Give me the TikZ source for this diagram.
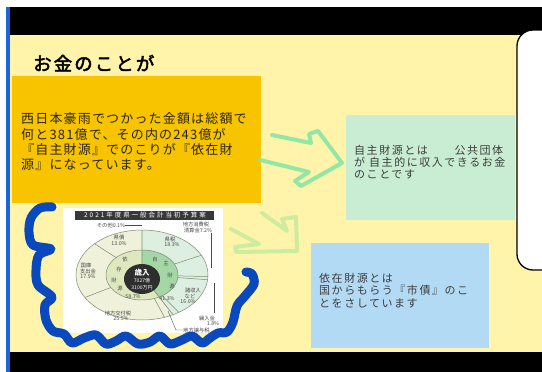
\documentclass[tikz,border=0pt]{standalone}
\usepackage{fontspec}
\newfontfamily\jp{Noto Sans CJK JP}
\newfontfamily\jpA[LetterSpace=9]{Noto Sans CJK JP}
\newfontfamily\jpB[LetterSpace=14]{Noto Sans CJK JP}
\newfontfamily\jpT[LetterSpace=11,FakeBold=2.5]{Noto Sans CJK JP}
\newfontfamily\jpC[LetterSpace=30]{Noto Sans CJK JP}
\definecolor{bgyellow}{HTML}{FFF4AA}
\definecolor{orangebox}{HTML}{F8C400}
\definecolor{mintbox}{HTML}{C8EDD2}
\definecolor{skybox}{HTML}{B3DAF5}
\definecolor{edgeblue}{HTML}{1A66D9}
\definecolor{scribble}{HTML}{0A48BE}
\definecolor{arrowA}{HTML}{86E6A6}
\definecolor{arrowB}{HTML}{C9EC9E}
\definecolor{ownOuter}{HTML}{DDEFE0}
\definecolor{ownInner}{HTML}{A5D7A6}
\definecolor{depOuter}{HTML}{F0F1DA}
\definecolor{depInner}{HTML}{DDE8BF}
\definecolor{chartline}{HTML}{7D8A70}
\definecolor{chartText}{HTML}{4A4A4A}
\definecolor{textdark}{HTML}{2A2410}
\definecolor{textgray}{HTML}{3C3C3C}
\tikzset{
  otext/.style={anchor=base west, inner sep=0, font=\jpA\fontsize{13}{15}\selectfont, text=textdark},
  btext/.style={anchor=base west, inner sep=0, font=\jpB\fontsize{11}{12}\selectfont, text=textgray},
  clabel/.style={inner sep=0, font=\jp\fontsize{5.3}{6}\selectfont, text=chartText},
  handarrow/.style={line width=4pt, line join=round, line cap=round, opacity=.9},
  leader/.style={draw=chartText, line width=0.4pt},
}
\begin{document}
\begin{tikzpicture}[x=1pt,y=-1pt]
\useasboundingbox (0,0) rectangle (542,372);
\clip (0,0) rectangle (542,372);
% frame
\fill[white] (0,0) rectangle (542,372);
\fill[black] (10,7) rectangle (542,35);
\fill[bgyellow] (10,35) rectangle (542,352);
\fill[black] (10,352) rectangle (542,372);
\fill[edgeblue] (6,7) rectangle (10,372);
% right white box
\draw[line width=1.3pt, fill=white, rounded corners=16pt] (517,30) rectangle (575,270);
% title
\node[anchor=base west, inner sep=0, font=\jpT\fontsize{18.5}{20}\selectfont] (title) at (33,70.5) {お金のことが};
% orange box
\fill[orangebox] (12,76) rectangle (261,203);
\node[otext] (o1) at (21,123.5) {西日本豪雨でつかった金額は総額で};
\node[otext] (o2) at (21,139) {何と381億で、その内の243億が};
\node[otext] (o3) at (21,154) {『自主財源』でのこりが『依在財};
\node[otext] (o4) at (21,169) {源』になっています。};
% green box
\fill[mintbox] (346,115) rectangle (515,220);
\node[btext] (g1) at (354,154) {自主財源とは　　公共団体};
\node[btext] (g2) at (354,166) {が 自主的に収入できるお金};
\node[btext] (g3) at (354,178) {のことです};
% blue box
\fill[skybox] (311,243) rectangle (489,348);
\node[btext] (b1) at (319,282) {依在財源とは};
\node[btext] (b2) at (319,294) {国からもらう『市債』のこ};
\node[btext] (b3) at (319,307) {とをさしています};
% hand-drawn arrows
\draw[handarrow, arrowA] (272,135) -- (311,143) -- (309,134) -- (318,131) -- (342,163) -- (301,186) -- (295,181) -- (309,172) -- (260,160);
\draw[handarrow, arrowB] (262,213) -- (287,231) -- (282,219) -- (296,217) -- (297,251) -- (236,252) -- (235,247) -- (259,244) -- (231,229);
% chart
\fill[white] (63,208) rectangle (223,333);
\fill[black!78] (75,211) rectangle (214,219.5);
\node[inner sep=0, text=white, font=\jpC\fontsize{6.5}{7}\selectfont] (ctitle) at (145,215.3) {2021年度県一般会計当初予算案};
\begin{scope}[shift={(142,275)}]
  \fill[ownOuter] (0,0) -- plot[domain=-90:62, samples=40] ({66*cos(\x)},{45*sin(\x)}) -- cycle;
  \fill[depOuter] (0,0) -- plot[domain=62:270, samples=50] ({66*cos(\x)},{45*sin(\x)}) -- cycle;
  \fill[ownInner] (0,0) -- plot[domain=-90:62, samples=40] ({36*cos(\x)},{25*sin(\x)}) -- cycle;
  \fill[depInner] (0,0) -- plot[domain=62:270, samples=50] ({36*cos(\x)},{25*sin(\x)}) -- cycle;
  \draw[chartline, line width=0.5pt] plot[domain=0:360, samples=90] ({66*cos(\x)},{45*sin(\x)}) -- cycle;
  \draw[chartline, line width=0.5pt] plot[domain=0:360, samples=70] ({36*cos(\x)},{25*sin(\x)}) -- cycle;
  \foreach \t in {-26,2,6,56,70,150,224} {
    \draw[chartline, line width=0.5pt] ({36*cos(\t)},{25*sin(\t)}) -- ({66*cos(\t)},{45*sin(\t)});
  }
  \draw[chartline, line width=0.6pt] (0,-45) -- (0,0) -- ({66*cos(62)},{45*sin(62)});
  \fill[black!82] (0,4) ellipse[x radius=18, y radius=15];
\end{scope}
% chart labels
\node[inner sep=0, text=white, font=\jp\bfseries\fontsize{7.5}{8}\selectfont] (sainyu) at (142,273) {歳入};
\node[inner sep=0, text=white, font=\jp\fontsize{5}{5}\selectfont] (amt1) at (142,281) {7027億};
\node[inner sep=0, text=white, font=\jp\fontsize{5}{5}\selectfont] (amt2) at (142,287.5) {3100万円};
\node[clabel] (sonota) at (111,225) {その他0.1\%};
\coordinate (topc) at (142,225);
\draw[leader] (sonota.east) -- (topc);
\node[clabel] (kensai1) at (119,238) {県債};
\node[clabel] (kensai2) at (119,244) {13.0\%};
\node[clabel] (kokko1) at (86,265) {国庫};
\node[clabel] (kokko2) at (88,271) {支出金};
\node[clabel] (kokko3) at (88,277) {17.9\%};
\node[clabel] (dep1) at (125,259) {依};
\node[clabel] (dep2) at (119,269) {存};
\node[clabel] (dep3) at (114,280) {財};
\node[clabel] (dep4) at (120,289) {源};
\node[clabel] (deppct) at (133,297) {58.7\%};
\node[clabel] (own1) at (155,259) {自};
\node[clabel] (own2) at (166,263) {主};
\node[clabel] (own3) at (170,275) {財};
\node[clabel] (own4) at (172,287) {源};
\node[clabel] (ownpct) at (167,299) {41.3\%};
\node[clabel] (kenzei1) at (170,239) {県税};
\node[clabel] (kenzei2) at (172,245) {18.3\%};
\node[clabel] (shohi1) at (196,224) {地方消費税};
\node[clabel] (shohi2) at (198,230) {清算金7.2\%};
\coordinate (shohiA) at (211,233);
\coordinate (shohiB) at (211,268);
\draw[leader] (shohiA) -- (shohiB);
\node[clabel] (sho1) at (193,290) {諸収入};
\node[clabel] (sho2) at (190,296) {など};
\node[clabel] (sho3) at (188,302) {16.0\%};
\node[clabel] (kuri1) at (207,318) {繰入金};
\node[clabel] (kuri2) at (213,324) {1.8\%};
\coordinate (kuriA) at (214,283);
\coordinate (kuriB) at (214,313);
\draw[leader] (kuriA) -- (kuriB);
\node[clabel] (kofu1) at (118,313) {地方交付税};
\node[clabel] (kofu2) at (121,319) {25.5\%};
\node[clabel, anchor=west] (joyo) at (183,330) {地方譲与税};
\coordinate (joyoA) at (168,311);
\coordinate (joyoB) at (176,330);
\draw[leader] (joyoA) -- (joyoB) -- (joyo.west);
% blue scribble
\draw[scribble, line width=9pt, line cap=round, line join=round] plot[smooth, tension=0.55] coordinates {(52,207) (40,208) (31,218) (29,232) (33,245) (51,249) (39,255) (36,270) (38,285) (52,297) (45,305) (46,320) (53,331) (64,334) (72,343) (84,338) (96,335) (106,344) (116,341) (126,336) (138,344) (150,342) (160,336) (170,344) (182,340) (192,336) (202,343) (210,338) (218,333) (227,332) (233,322) (237,306) (245,296) (254,284) (252,274) (246,272)};
\end{tikzpicture}
\end{document}
